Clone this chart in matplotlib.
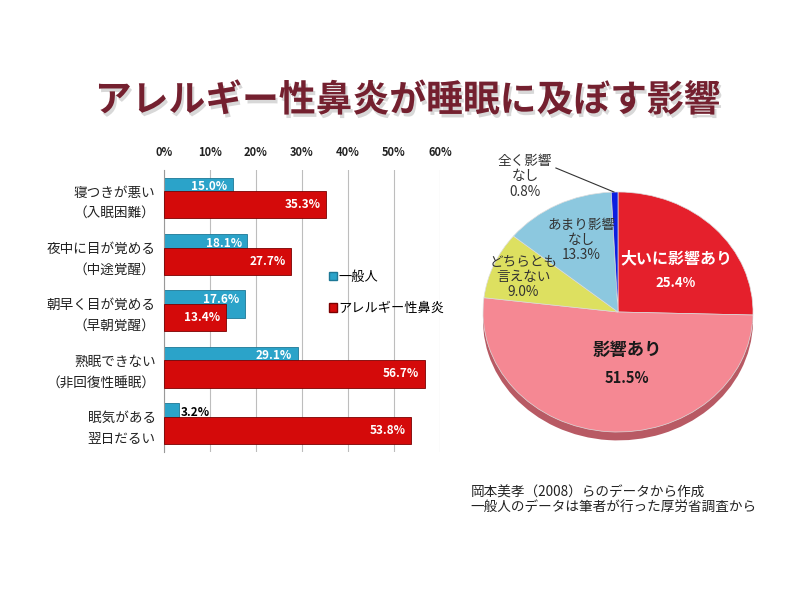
import matplotlib
matplotlib.use("Agg")
import matplotlib.pyplot as plt
import matplotlib.patheffects as pe
from matplotlib.patches import Patch
import numpy as np

plt.rcParams['font.family'] = ['Noto Sans CJK JP', 'DejaVu Sans']

# bar chart data
categories = ['寝つきが悪い\n（入眠困難）', '夜中に目が覚める\n（中途覚醒）', '朝早く目が覚める\n（早朝覚醒）',
              '熟眠できない\n（非回復性睡眠）', '眠気がある\n翌日だるい']
general = [15.0, 18.1, 17.6, 29.1, 3.2]
allergy = [35.3, 27.7, 13.4, 56.7, 53.8]
series_names = ['一般人', 'アレルギー性鼻炎']
x_ticks = [0, 10, 20, 30, 40, 50, 60]

# pie chart data
pie_labels = ['大いに影響あり', '影響あり', 'どちらとも\n言えない', 'あまり影響\nなし', '全く影響\nなし']
pie_values = [25.4, 51.5, 9.0, 13.3, 0.8]

blue = '#2ba3c9'
red = '#d40a0a'
pie_colors = ['#e5202c', '#f58893', '#dde060', '#8cc8df', '#0c1ee0']
pie_side = ['#9a1018', '#b85a64', '#9a9c3a', '#5a8ea2', '#06108a']

fig = plt.figure(figsize=(8, 6), dpi=100)

# title
fig.text(0.509, 0.832, 'アレルギー性鼻炎が睡眠に及ぼす影響', ha='center', va='center',
         fontsize=26.5, fontweight='bold', color='#74202f',
         path_effects=[pe.SimplePatchShadow(offset=(1.5, -2.5), shadow_rgbFace='#aaaaaa', alpha=0.45),
                       pe.Normal()])

# ---- horizontal bars ----
ax = fig.add_axes([0.205, 0.247, 0.345, 0.47])
y = np.arange(len(categories))
h = 0.48
off = 0.12
ax.barh(y - off, general, height=h, color=blue, edgecolor='#1d7896', linewidth=0.6, zorder=2)
ax.barh(y + off, allergy, height=h, color=red, edgecolor='#7a0000', linewidth=0.6, zorder=4)

for yi, v in zip(y, general):
    if v < 6:
        ax.text(v + 0.4, yi - 0.2, f'{v:.1f}%', ha='left', va='center', fontsize=8.5,
                fontweight='bold', color='black', zorder=3)
    else:
        ax.text(v - 1.2, yi - 0.2, f'{v:.1f}%', ha='right', va='center', fontsize=8.5,
                fontweight='bold', color='white', zorder=3)
for yi, v in zip(y, allergy):
    ax.text(v - 1.2, yi + off, f'{v:.1f}%', ha='right', va='center', fontsize=8.5,
            fontweight='bold', color='white', zorder=5)

ax.set_xlim(0, 60)
ax.set_ylim(len(categories) - 0.5, -0.5)
ax.xaxis.tick_top()
ax.set_xticks(x_ticks)
ax.set_xticklabels([f'{t}%' for t in x_ticks], fontsize=8, fontweight='bold', color='#222222')
ax.set_yticks(y)
ax.set_yticklabels(categories, fontsize=9.8, color='#222222', linespacing=1.6)
for lab in ax.get_yticklabels():
    lab.set_multialignment('right')
ax.tick_params(length=0, pad=6)
ax.tick_params(axis='x', pad=8)
ax.grid(axis='x', color='#bdbdbd', linewidth=0.8, zorder=0)
ax.set_axisbelow(True)
for s in ['top', 'right', 'bottom']:
    ax.spines[s].set_visible(False)
ax.spines['left'].set_color('#999999')

handles = [Patch(facecolor=blue, edgecolor='#1d7896'), Patch(facecolor=red, edgecolor='#7a0000')]
ax.legend(handles, series_names, loc='center left', bbox_to_anchor=(0.396, 0.512),
          bbox_transform=fig.transFigure, frameon=False, fontsize=9.5,
          handlelength=0.6, handleheight=0.6, handletextpad=0.15, labelspacing=1.4)

# ---- pie ----
ax2 = fig.add_axes([0.5700, 0.22, 0.405, 0.5])
ax2.pie(pie_values, colors=pie_side, startangle=90, counterclock=False, radius=1,
        center=(0, -0.07), wedgeprops=dict(linewidth=0))
ax2.pie(pie_values, colors=pie_colors, startangle=90, counterclock=False, radius=1,
        wedgeprops=dict(linewidth=0.5, edgecolor='#dddddd'))
ax2.set_aspect('auto')
ax2.set_xlim(-1.2, 1.2)
ax2.set_ylim(-1.3, 1.2)
ax2.axis('off')

ax2.text(0.43, 0.45, pie_labels[0], ha='center', va='center', fontsize=11.5,
         fontweight='bold', color='white')
ax2.text(0.43, 0.24, f'{pie_values[0]:.1f}%', ha='center', va='center', fontsize=9.5,
         fontweight='bold', color='white')
ax2.text(0.067, -0.32, pie_labels[1], ha='center', va='center', fontsize=12.5,
         fontweight='bold', color='#1a1a1a')
ax2.text(0.067, -0.55, f'{pie_values[1]:.1f}%', ha='center', va='center', fontsize=10.5,
         fontweight='bold', color='#1a1a1a')
ax2.text(-0.70, 0.29, f'{pie_labels[2]}\n{pie_values[2]:.1f}%', ha='center', va='center',
         fontsize=9.8, color='#333333', linespacing=1.1)
ax2.text(-0.27, 0.60, f'{pie_labels[3]}\n{pie_values[3]:.1f}%', ha='center', va='center',
         fontsize=9.8, color='#333333', linespacing=1.1)
ax2.text(-0.69, 1.13, f'{pie_labels[4]}\n{pie_values[4]:.1f}%', ha='center', va='center',
         fontsize=9.8, color='#333333', linespacing=1.1)
ax2.plot([-0.46, -0.03], [1.20, 1.0], color='#333333', linewidth=0.8, clip_on=False)

# source note
fig.text(0.588, 0.166, '岡本美孝（2008）らのデータから作成\n一般人のデータは筆者が行った厚労省調査から',
         ha='left', va='center', fontsize=9.8, color='#222222', linespacing=1.15)

fig.savefig('out.png', dpi=100, facecolor='white')
